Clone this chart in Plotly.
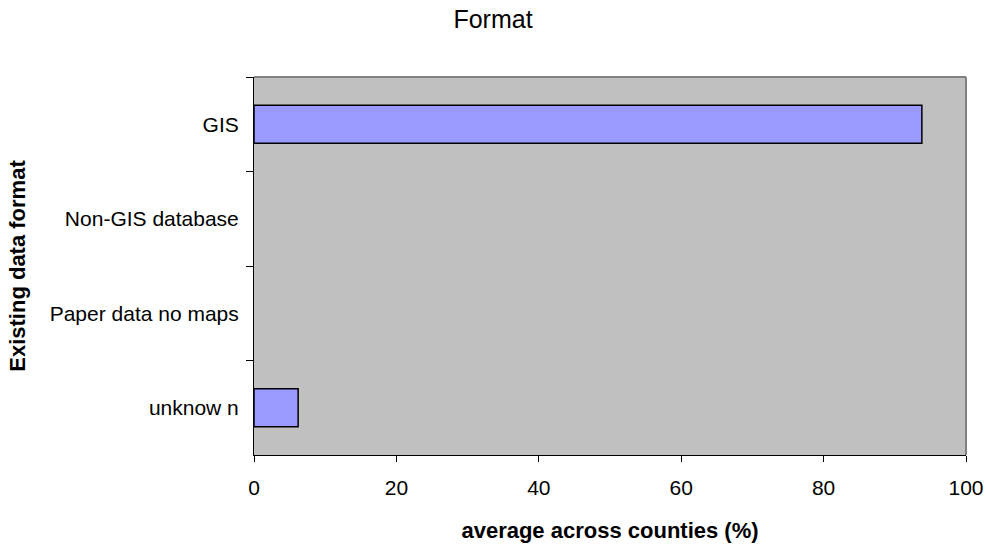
import plotly.graph_objects as go

categories = ["GIS", "Non-GIS database", "Paper data no maps", "unknow n"]
values = [93.8, 0, 0, 6.2]
x_ticks = [0, 20, 40, 60, 80, 100]

FONT = "Liberation Sans, Arial, sans-serif"

fig = go.Figure(
    go.Bar(
        x=values,
        y=categories,
        orientation="h",
        marker=dict(
            color="#9999FF",
            line=dict(color="black", width=[1.5 if v > 0 else 0 for v in values]),
        ),
        hoverinfo="x+y",
    )
)

fig.update_layout(
    width=986,
    height=545,
    margin=dict(l=254, r=20, t=77, b=90),
    paper_bgcolor="white",
    plot_bgcolor="#C0C0C0",
    bargap=0.6,
    showlegend=False,
    font=dict(family=FONT, color="black", size=21),
    title=dict(
        text="Format",
        font=dict(family=FONT, size=25, color="black"),
        x=0.5,
        xref="container",
        xanchor="center",
        y=1 - 19 / 545,
        yref="container",
        yanchor="middle",
    ),
    xaxis=dict(
        range=[0, 100],
        tickmode="array",
        tickvals=x_ticks,
        ticktext=[str(v) for v in x_ticks],
        ticks="outside",
        ticklen=6,
        tickcolor="black",
        showgrid=False,
        zeroline=False,
        showline=True,
        linecolor="black",
        linewidth=1,
        tickfont=dict(family=FONT, size=21, color="black"),
        ticklabelstandoff=8,
        automargin=False,
        title=dict(
            text="<b>average across counties (%)</b>",
            font=dict(family=FONT, size=22, color="black"),
            standoff=24,
        ),
        fixedrange=True,
    ),
    yaxis=dict(
        autorange="reversed",
        type="category",
        ticks="outside",
        tickson="boundaries",
        ticklen=7,
        tickcolor="black",
        showgrid=False,
        zeroline=False,
        showline=True,
        linecolor="black",
        linewidth=1,
        tickfont=dict(family=FONT, size=21, color="black"),
        ticklabelstandoff=10,
        automargin=False,
        title=dict(
            text="<b>Existing data format</b>",
            font=dict(family=FONT, size=22, color="black"),
            standoff=17,
        ),
        fixedrange=True,
    ),
    shapes=[
        dict(type="line", xref="paper", yref="paper", x0=0, x1=1, y0=1, y1=1,
             line=dict(color="#808080", width=2)),
        dict(type="line", xref="paper", yref="paper", x0=1, x1=1, y0=0, y1=1,
             line=dict(color="#808080", width=2)),
    ],
)

fig.write_html("out.html")
